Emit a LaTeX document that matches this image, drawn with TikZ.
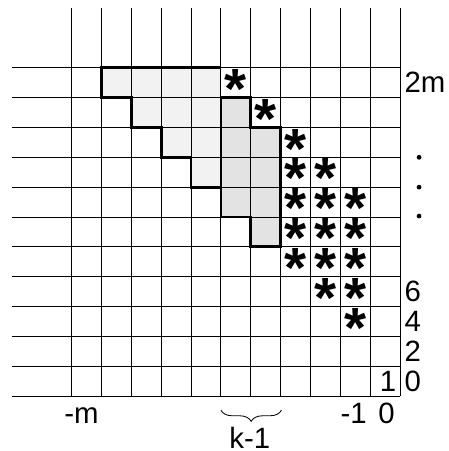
\documentclass[tikz,border=0pt]{standalone}
\usepackage{fontspec}
\setmainfont{Liberation Sans}
\usetikzlibrary{decorations.pathreplacing}
\begin{document}
\begin{tikzpicture}[x=1cm,y=1cm,
  gridline/.style={line width=0.8pt},
  outline/.style={line width=2.6pt, line join=miter},
  lightfill/.style={fill=black!5},
  darkfill/.style={fill=black!11},
  lbl/.style={font=\fontsize{28}{28}\selectfont, inner sep=0pt},
  starmark/.style={font=\fontsize{54}{54}\selectfont\bfseries, inner sep=0pt, anchor=base},
  dotmark/.style={fill=black}
]
\useasboundingbox (-2.40,-1.84) rectangle (12.61,13.27);
% shaded regions
\fill[lightfill] (1,11)--(5,11)--(5,7)--(4,7)--(4,8)--(3,8)--(3,9)--(2,9)--(2,10)--(1,10)--cycle;
\fill[darkfill] (5,10)--(6,10)--(6,9)--(7,9)--(7,5)--(6,5)--(6,6)--(5,6)--cycle;
% grid
\foreach \i in {0,...,11} \draw[gridline] (-2,\i)--(11,\i);
\foreach \i in {0,...,11} \draw[gridline] (\i,0)--(\i,13);
% outlines
\draw[outline] (5,11)--(1,11)--(1,10)--(2,10)--(2,9)--(3,9)--(3,8)--(4,8)--(4,7)--(5,7);
\draw[outline] (5,10)--(6,10)--(6,9)--(7,9)--(7,5)--(6,5)--(6,6)--(5,6)--cycle;
% stars
\foreach \p/\q in {5.5/10.5, 6.5/9.5,
  7.5/8.5, 7.5/7.5, 7.5/6.5, 7.5/5.5, 7.5/4.5,
  8.5/7.5, 8.5/6.5, 8.5/5.5, 8.5/4.5, 8.5/3.5,
  9.5/6.5, 9.5/5.5, 9.5/4.5, 9.5/3.5, 9.5/2.5}
  \node[starmark] at (\p,\q-0.86) {*};
% right labels
\node[lbl, anchor=west] (l2m) at (11.15,10.5) {2m};
\fill[dotmark] (11.64,8.0) circle (0.08);
\fill[dotmark] (11.64,7.0) circle (0.08);
\fill[dotmark] (11.64,6.03) circle (0.08);
\node[lbl, anchor=west] (l6) at (11.15,3.5) {6};
\node[lbl, anchor=west] (l4) at (11.15,2.5) {4};
\node[lbl, anchor=west] (l2) at (11.15,1.5) {2};
\node[lbl, anchor=west] (l0) at (11.15,0.48) {0};
\node[lbl] (one) at (10.6,0.48) {1};
% bottom labels
\node[lbl, anchor=base] (lm) at (0.33,-0.92) {-m};
\node[lbl, anchor=base] (lm1) at (9.45,-0.92) {-1};
\node[lbl, anchor=base] (lz) at (10.55,-0.92) {0};
\coordinate (bl) at (5,-0.47);
\coordinate (br) at (7.03,-0.47);
\draw[gridline, decorate, decoration={brace, mirror, amplitude=0.38cm}] (bl) -- (br);
\node[lbl, anchor=base] (lk) at (5.97,-1.75) {k-1};
\end{tikzpicture}
\end{document}
